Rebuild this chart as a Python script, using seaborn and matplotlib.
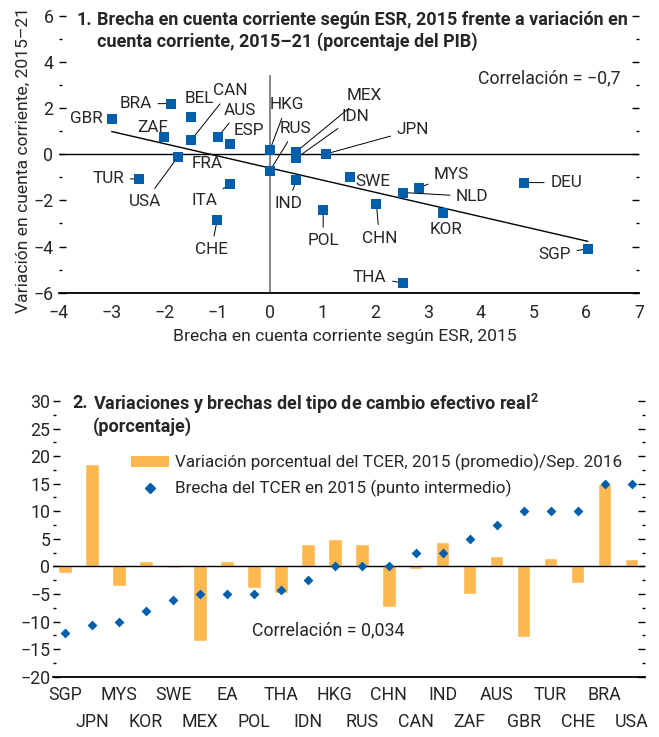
import matplotlib
matplotlib.use("Agg")
import matplotlib.pyplot as plt
import matplotlib.ticker as mticker
from matplotlib.lines import Line2D
from matplotlib.patches import Patch
import seaborn as sns
import pandas as pd

# Datos panel 1: brecha en cuenta corriente vs variación
paises = ["GBR", "BRA", "BEL", "ZAF", "CAN", "AUS", "ESP", "FRA", "USA", "TUR",
          "ITA", "CHE", "HKG", "RUS", "MEX", "IDN", "JPN", "IND", "POL", "SWE",
          "MYS", "NLD", "DEU", "CHN", "KOR", "SGP", "THA"]
brecha_cc = [-3.0, -1.88, -1.49, -2.01, -1.49, -0.99, -0.75, -1.74, -1.74, -2.49,
             -0.75, -1.0, 0.0, 0.0, 0.5, 0.5, 1.06, 0.5, 1.01, 1.52,
             2.82, 2.53, 4.82, 2.02, 3.28, 6.03, 2.52]
var_cc = [1.54, 2.19, 1.60, 0.74, 0.62, 0.74, 0.46, -0.10, -0.10, -1.07,
          -1.29, -2.87, 0.19, -0.71, 0.11, -0.17, 0.01, -1.11, -2.41, -0.97,
          -1.47, -1.66, -1.23, -2.16, -2.53, -4.09, -5.58]

# Datos panel 2: tipo de cambio efectivo real
monedas = ["SGP", "JPN", "MYS", "KOR", "SWE", "MEX", "EA", "POL", "THA", "IDN", "HKG",
           "RUS", "CHN", "CAN", "IND", "ZAF", "AUS", "GBR", "TUR", "CHE", "BRA", "USA"]
var_tcer = [-1.2, 18.5, -3.6, 0.9, -0.3, -13.5, 0.9, -3.9, -4.8, 4.0, 5.0,
            4.0, -7.4, -0.5, 4.4, -5.0, 1.8, -12.8, 1.6, -3.0, 15.0, 1.3]
brecha_tcer = [-12.0, -10.6, -10.0, -8.0, -6.0, -5.0, -5.0, -5.0, -4.25, -2.5, 0.0,
               0.0, 0.0, 2.5, 2.5, 5.0, 7.5, 10.0, 10.0, 10.0, 15.0, 15.0]

# Posición de las etiquetas (desplazamiento en píxeles) y si llevan línea guía
etiquetas = {
  "GBR": (-25, 0, False), "BRA": (-35, 0, True), "BEL": (8, 19, False),
  "CAN": (39, 49, True), "AUS": (22, 27, True), "ZAF": (-11, 10, False),
  "ESP": (19, 13, False), "FRA": (29, -7, False), "USA": (-33, -45, True),
  "TUR": (-30, 0, True), "ITA": (-26, -17, True), "CHE": (-6, -29, True),
  "HKG": (17, 45, True), "RUS": (26, 42, True), "MEX": (68, 56, True),
  "IDN": (59, 42, True), "JPN": (87, 24, True), "IND": (-8, -24, True),
  "POL": (0, -31, True), "SWE": (23, -5, False), "MYS": (33, 14, True),
  "NLD": (69, -4, True), "DEU": (42, 0, True), "CHN": (3, -34, True),
  "KOR": (3, -17, False), "SGP": (-33, -6, True), "THA": (-33, 6, True),
}

AZUL = "#005EAA"
NARANJA = "#FDB94F"
W, H = 659, 737

sns.set_style("white")
plt.rcParams["font.family"] = ["Roboto", "DejaVu Sans"]
plt.rcParams["mathtext.fontset"] = "custom"
plt.rcParams["mathtext.bf"] = "Roboto:bold"
plt.rcParams["mathtext.rm"] = "Roboto"
FS = 12.3     # texto normal
FS_T = 13.0   # títulos en negrita

fig = plt.figure(figsize=(W / 100, H / 100), dpi=100)

def fx(x):
  return x / W

def fy(y):
  return 1 - y / H

# ---------------- Panel 1 ----------------
ax1 = fig.add_axes([fx(59), fy(292.7), fx(639) - fx(59), fy(15.7) - fy(292.7)])
df1 = pd.DataFrame({"pais": paises, "x": brecha_cc, "y": var_cc})

ax1.axhline(0, color="black", lw=1, zorder=1)
ax1.vlines(0, -6, 3.45, color="#7f7f7f", lw=1.3, zorder=1)
sns.regplot(data=df1, x="x", y="y", ax=ax1, scatter=False, ci=None, truncate=True,
            line_kws={"color": "black", "lw": 1, "zorder": 2})
sns.scatterplot(data=df1, x="x", y="y", ax=ax1, marker="s", s=48, color=AZUL,
                linewidth=0, zorder=4)

for p, x, y in zip(paises, brecha_cc, var_cc):
  dx, dy, guia = etiquetas[p]
  props = None
  if guia:
    props = dict(arrowstyle="-", color="black", lw=0.7, shrinkA=2, shrinkB=0)
  ax1.annotate(p, (x, y), xytext=(dx, dy), textcoords="offset pixels",
               ha="center", va="center", fontsize=FS, arrowprops=props, zorder=3)

ax1.set_xlim(-4, 7)
ax1.set_ylim(-6, 6)
ax1.xaxis.set_major_locator(mticker.MultipleLocator(1))
ax1.yaxis.set_major_locator(mticker.MultipleLocator(2))
ax1.yaxis.set_minor_locator(mticker.MultipleLocator(1))
ax1.tick_params(axis="both", which="both", direction="in", labelsize=FS + 0.5,
                width=1, color="black")
ax1.tick_params(axis="x", which="major", length=5, pad=8)
ax1.tick_params(axis="y", which="major", length=5, pad=4, left=True, right=True)
ax1.tick_params(axis="y", which="minor", length=2.5, left=True, right=True)
for s in ["left", "right", "top"]:
  ax1.spines[s].set_visible(False)
ax1.spines["bottom"].set_linewidth(1.3)
ax1.spines["bottom"].set_color("black")

ax1.set_xlabel("Brecha en cuenta corriente según ESR, 2015", fontsize=FS + 0.3)
ax1.set_ylabel("Variación en cuenta corriente, 2015–21", fontsize=FS + 0.3)
ax1.xaxis.label.set_va("center")
ax1.yaxis.label.set_va("center")
ax1.xaxis.set_label_coords((345 - 59) / 580, (292.7 - 337) / 277)
ax1.yaxis.set_label_coords((23 - 59) / 580, (292.7 - 160) / 277)

ax1.text((620 - 59) / 580, (292.7 - 78) / 277, "Correlación = −0,7", fontsize=FS + 0.5,
         ha="right", va="center", transform=ax1.transAxes)

fig.text(fx(77), fy(20), "1.", fontsize=FS_T, fontweight="bold", va="center")
fig.text(fx(97), fy(20), "Brecha en cuenta corriente según ESR, 2015 frente a variación en",
         fontsize=FS_T, fontweight="bold", va="center")
fig.text(fx(97), fy(42), "cuenta corriente, 2015–21 (porcentaje del PIB)",
         fontsize=FS_T, fontweight="bold", va="center")

# ---------------- Panel 2 ----------------
ax2 = fig.add_axes([fx(53), fy(676.7), fx(645) - fx(53), fy(401) - fy(676.7)])
df2 = pd.DataFrame({"moneda": monedas, "var": var_tcer, "brecha": brecha_tcer})

sns.barplot(data=df2, x="moneda", y="var", ax=ax2, color=NARANJA, saturation=1,
            width=0.5, order=monedas, zorder=2)
ax2.axhline(0, color="black", lw=1, zorder=3)
sns.stripplot(data=df2, x="moneda", y="brecha", ax=ax2, order=monedas, jitter=False,
              marker="D", size=5, color=AZUL, linewidth=0, zorder=4)

ax2.set_xlim(-0.45, 21.5)
ax2.set_ylim(-20, 30)
ax2.set_xticks(range(0, 22, 2), labels=monedas[::2])
ax2.set_xticks(range(1, 22, 2), labels=monedas[1::2], minor=True)
ax2.yaxis.set_major_locator(mticker.MultipleLocator(5))
ax2.yaxis.set_minor_locator(mticker.MultipleLocator(2.5))
ax2.tick_params(axis="both", which="both", direction="in", labelsize=FS + 0.5,
                width=1, color="black")
ax2.tick_params(axis="x", which="major", length=5, pad=7)
ax2.tick_params(axis="x", which="minor", length=5, pad=26)
ax2.tick_params(axis="y", which="major", length=5, pad=2, left=True, right=True)
ax2.tick_params(axis="y", which="minor", length=2.5, left=True, right=True)
for s in ["left", "right", "top"]:
  ax2.spines[s].set_visible(False)
ax2.spines["bottom"].set_linewidth(1.3)
ax2.spines["bottom"].set_color("black")
ax2.set_xlabel("")
ax2.set_ylabel("")

fig.text(fx(72), fy(403.5), "2.", fontsize=FS_T, fontweight="bold", va="center")
fig.text(fx(93), fy(403.5),
         r"Variaciones y brechas del tipo de cambio efectivo real$^{\mathbf{2}}$",
         fontsize=FS_T, fontweight="bold", va="center")
fig.text(fx(93), fy(426.7), "(porcentaje)", fontsize=FS_T, fontweight="bold", va="center")

fig.text(fx(251.7), fy(630), "Correlación = 0,034", fontsize=FS + 0.5, va="center")

handles = [
  Patch(facecolor=NARANJA, edgecolor="none"),
  Line2D([], [], marker="D", color=AZUL, linestyle="none", markersize=5),
]
fig.legend(handles,
           ["Variación porcentual del TCER, 2015 (promedio)/Sep. 2016",
            "Brecha del TCER en 2015 (punto intermedio)"],
           loc="upper left", bbox_to_anchor=(fx(131), fy(454)), frameon=False,
           fontsize=FS, borderpad=0, borderaxespad=0, handlelength=2.2,
           handleheight=0.6, handletextpad=0.35, labelspacing=0.5)

plt.savefig("out.png", dpi=100)
